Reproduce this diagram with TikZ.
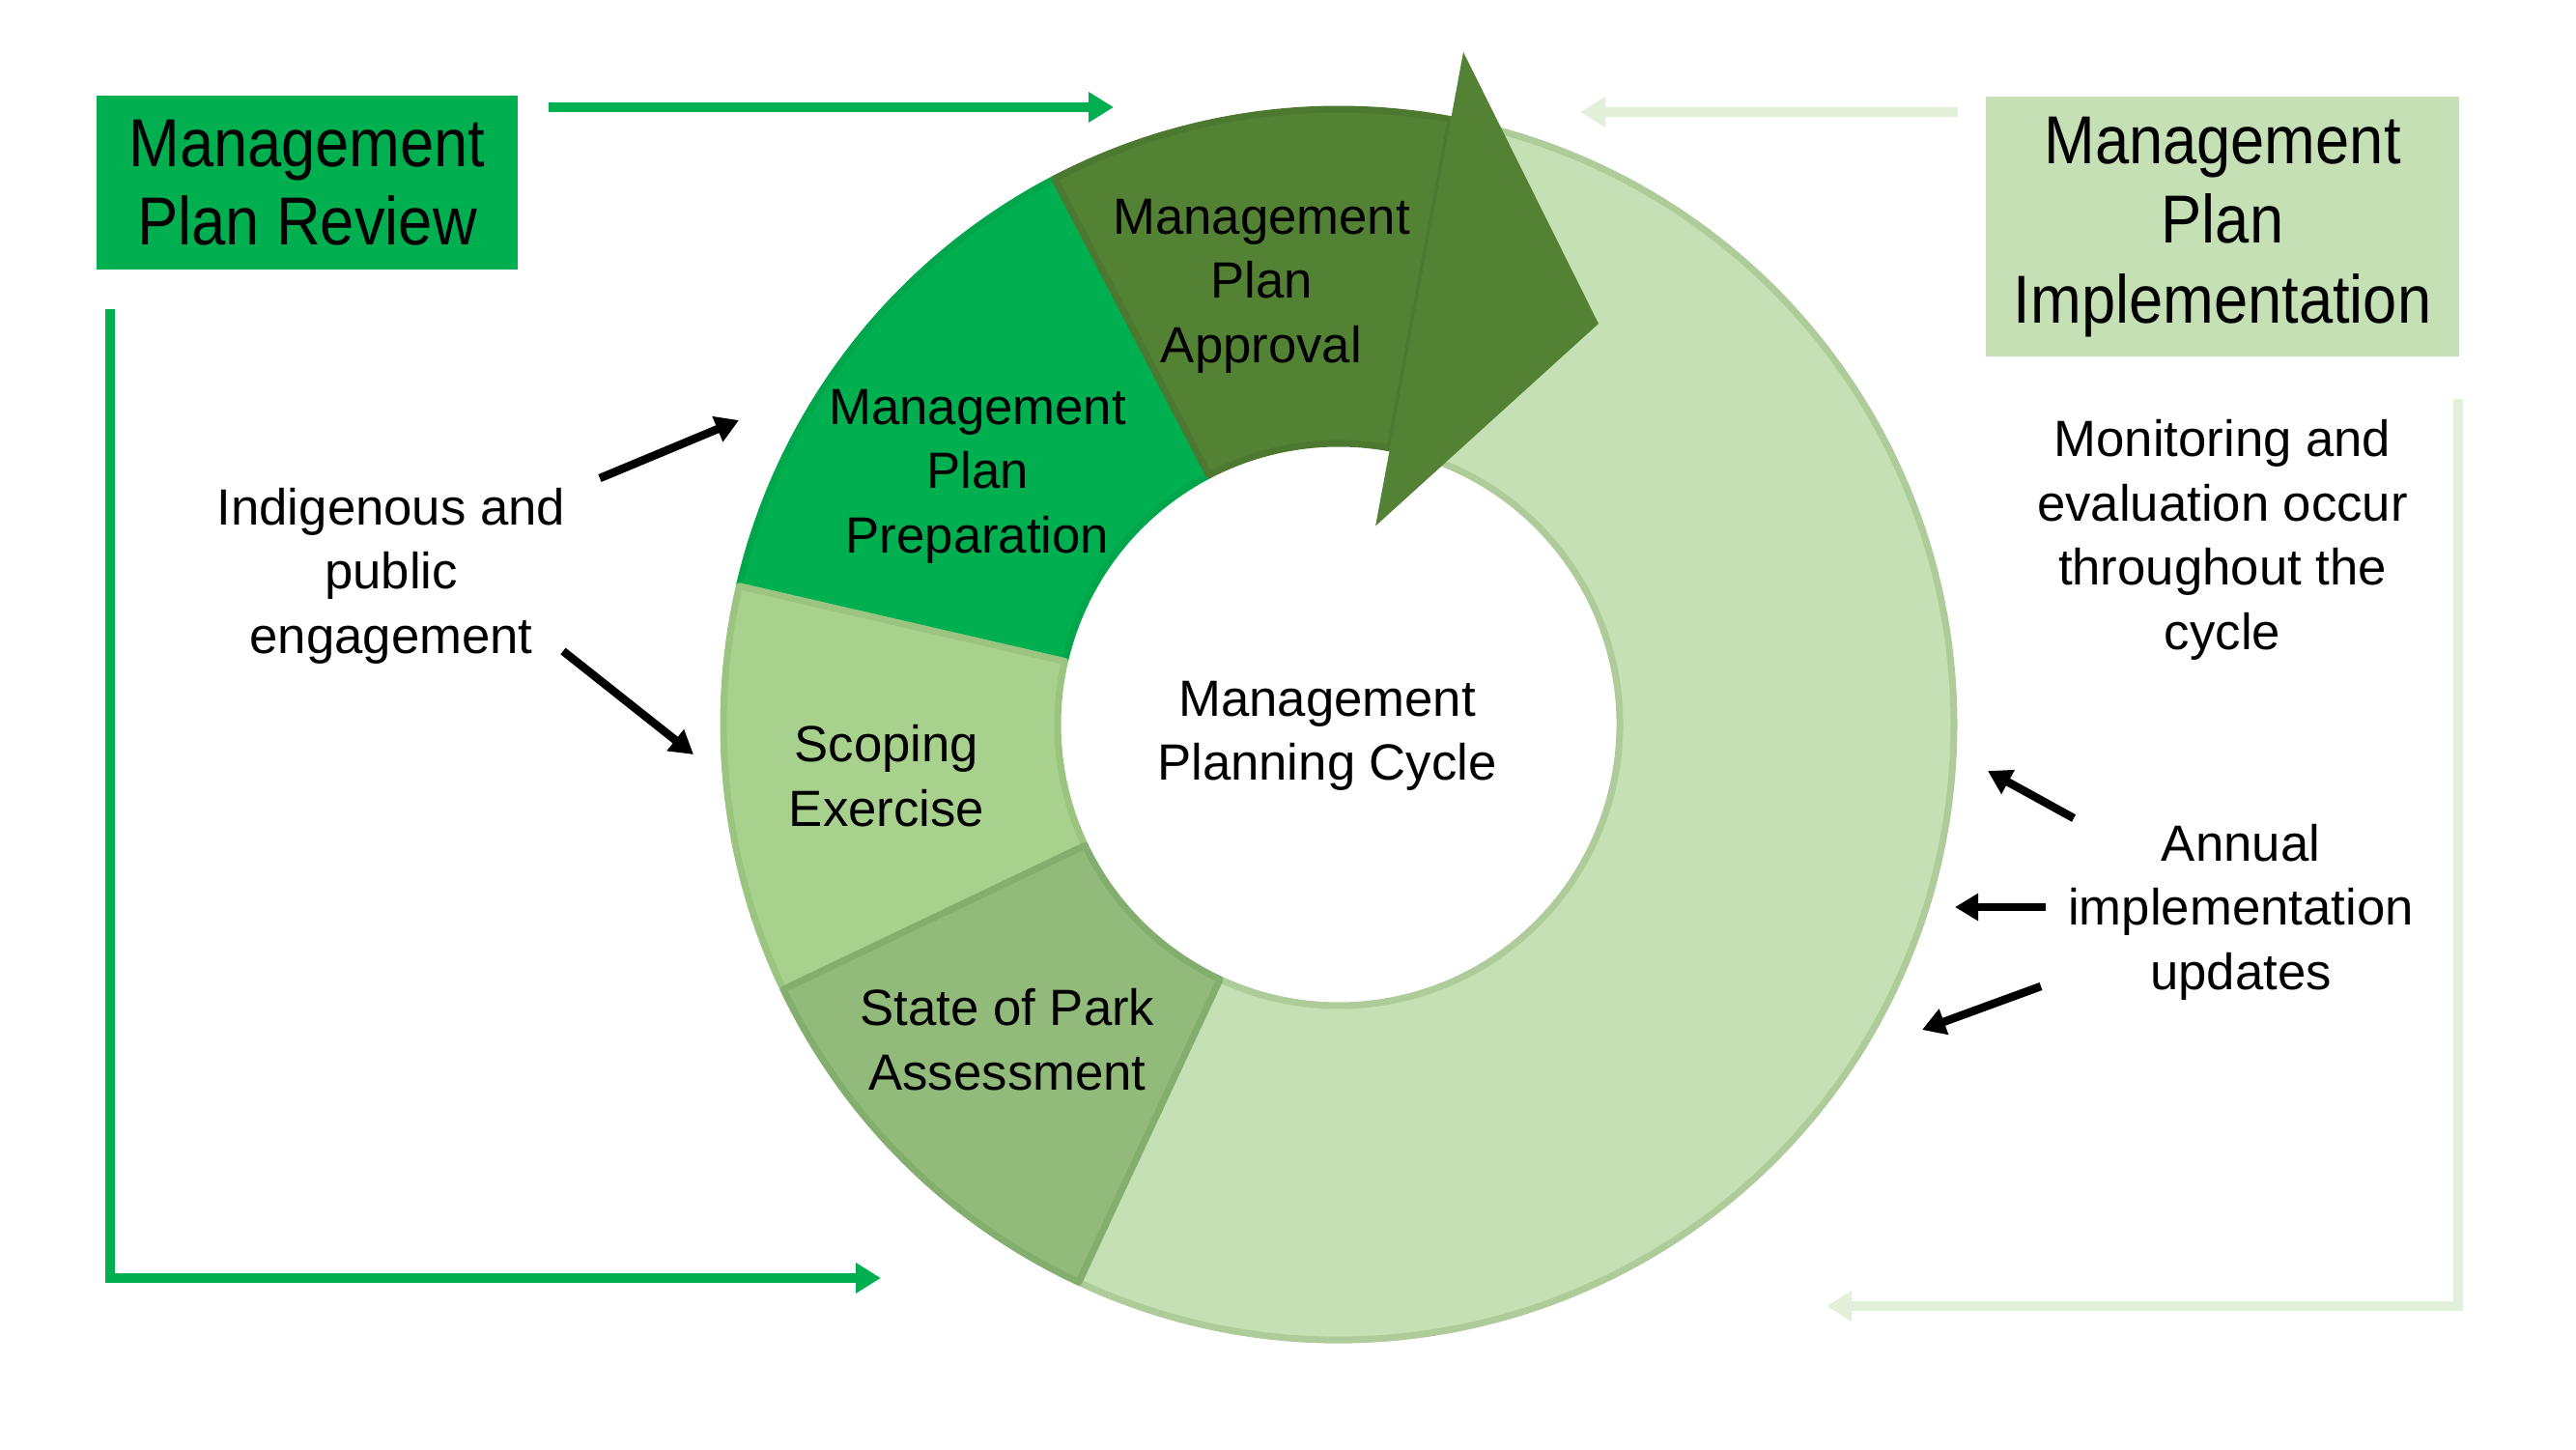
\documentclass[tikz,border=0pt]{standalone}
\usepackage{fontspec}
\setmainfont{Liberation Sans}
\newfontfamily\boxfont[FakeStretch=0.9]{Liberation Sans}
\usepackage{xcolor}
\usetikzlibrary{arrows.meta, positioning}
\definecolor{revGreen}{HTML}{00B050}
\definecolor{implGreen}{HTML}{C5E0B4}
\definecolor{implEdge}{HTML}{ADCC9A}
\definecolor{appGreen}{HTML}{548235}
\definecolor{appEdge}{HTML}{4D7830}
\definecolor{prepEdge}{HTML}{00A64B}
\definecolor{scopeGreen}{HTML}{A9D18E}
\definecolor{scopeEdge}{HTML}{9AC480}
\definecolor{stateGreen}{HTML}{91BA7B}
\definecolor{stateEdge}{HTML}{84AE6E}
\definecolor{paleGreen}{HTML}{E2F0D9}
\tikzset{
  boxReview/.style={rectangle, fill=revGreen, minimum width=4.36cm, minimum height=1.80cm, align=center, font=\boxfont\fontsize{20}{23}\selectfont, inner sep=0pt},
  boxImpl/.style={rectangle, fill=implGreen, minimum width=4.90cm, minimum height=2.69cm, align=center, font=\boxfont\fontsize{20}{23.5}\selectfont, inner sep=0pt},
  segText/.style={align=center, font=\fontsize{15}{18.9}\selectfont},
  noteText/.style={align=center, font=\fontsize{15}{18.9}\selectfont},
  segBig/.style={fill=implGreen, draw=implEdge, line width=0.07cm, line join=round},
  segApp/.style={fill=appGreen, draw=appEdge, line width=0.07cm, line join=round},
  segPrep/.style={fill=revGreen, draw=prepEdge, line width=0.07cm, line join=round},
  segScope/.style={fill=scopeGreen, draw=scopeEdge, line width=0.07cm, line join=round},
  segState/.style={fill=stateGreen, draw=stateEdge, line width=0.07cm, line join=round},
  greenArr/.style={draw=revGreen, line width=0.1cm, -{Triangle[length=0.26cm, width=0.3cm]}},
  paleArr/.style={draw=paleGreen, line width=0.1cm, -{Triangle[length=0.26cm, width=0.3cm]}},
  noteArr/.style={draw=black, line width=0.085cm, -{Triangle[length=0.24cm, width=0.27cm]}},
}
\begin{document}
\begin{tikzpicture}
\useasboundingbox (0,0) rectangle (26.67,15);
\coordinate (ctr) at (13.86,7.50);

% planning cycle ring
\begin{scope}[shift={(ctr)}]
\draw[segBig] (-115:6.37) arc[start angle=-115, end angle=79.5, radius=6.37] -- (79.5:2.91) arc[start angle=79.5, end angle=-115, radius=2.91] -- cycle;
\draw[segPrep] (117.5:6.37) arc[start angle=117.5, end angle=167, radius=6.37] -- (167:2.91) arc[start angle=167, end angle=117.5, radius=2.91] -- cycle;
\draw[segScope] (167:6.37) arc[start angle=167, end angle=205.5, radius=6.37] -- (205.5:2.91) arc[start angle=205.5, end angle=167, radius=2.91] -- cycle;
\draw[segState] (205.5:6.37) arc[start angle=205.5, end angle=245, radius=6.37] -- (245:2.91) arc[start angle=245, end angle=205.5, radius=2.91] -- cycle;
\draw[segApp] (79.5:6.37) arc[start angle=79.5, end angle=117.5, radius=6.37] -- (117.5:2.91) arc[start angle=117.5, end angle=79.5, radius=2.91] -- cycle;
\fill[appGreen] (79.5:7.08) -- (57.05:4.945) -- (79.5:2.09) -- cycle;
\end{scope}

\node (approval) [segText] at (13.06,12.04) {Management\\Plan\\Approval};
\node (prep) [segText] at (10.12,10.07) {Management\\Plan\\Preparation};
\node (scoping) [segText] at (9.18,6.97) {Scoping\\Exercise};
\node (state) [segText] at (10.43,4.24) {State of Park\\Assessment};
\node (cycle) [segText] at (13.74,7.38) {Management\\Planning Cycle};

\node (review) [boxReview] at (3.18,13.11) {Management\\Plan Review};
\node (impl) [boxImpl] at (23.01,12.65) {Management\\Plan\\Implementation};

\node (engage) [noteText] at (4.05,9.04) {Indigenous and\\public\\engagement};
\node (monitor) [noteText, below=0.52cm of impl] {Monitoring and\\evaluation occur\\throughout the\\cycle};
\node (annual) [noteText] at (23.20,5.56) {Annual\\implementation\\updates};

% green review loop
\coordinate (revOut) at (5.68,13.89);
\coordinate (revIn) at (11.53,13.89);
\coordinate (revDown) at (1.14,11.80);
\coordinate (revEnd) at (9.12,1.77);
\draw[greenArr] (revOut) -- (revIn);
\draw[greenArr] (revDown) |- (revEnd);

% pale implementation loop
\coordinate (implOut) at (20.27,13.84);
\coordinate (implIn) at (16.36,13.84);
\coordinate (implDown) at (25.45,10.87);
\coordinate (implEnd) at (18.91,1.48);
\draw[paleArr] (implOut) -- (implIn);
\draw[paleArr] (implDown) |- (implEnd);

% note arrows
\coordinate (engUp) at (6.21,10.05);
\coordinate (engUpTip) at (7.65,10.65);
\coordinate (engLow) at (5.83,8.26);
\coordinate (engLowTip) at (7.18,7.19);
\draw[noteArr] (engUp) -- (engUpTip);
\draw[noteArr] (engLow) -- (engLowTip);
\coordinate (annA) at (21.47,6.53);
\coordinate (annATip) at (20.58,7.02);
\coordinate (annB) at (21.18,5.61);
\coordinate (annBTip) at (20.24,5.61);
\coordinate (annC) at (21.13,4.79);
\coordinate (annCTip) at (19.90,4.34);
\draw[noteArr] (annA) -- (annATip);
\draw[noteArr] (annB) -- (annBTip);
\draw[noteArr] (annC) -- (annCTip);
\end{tikzpicture}
\end{document}
